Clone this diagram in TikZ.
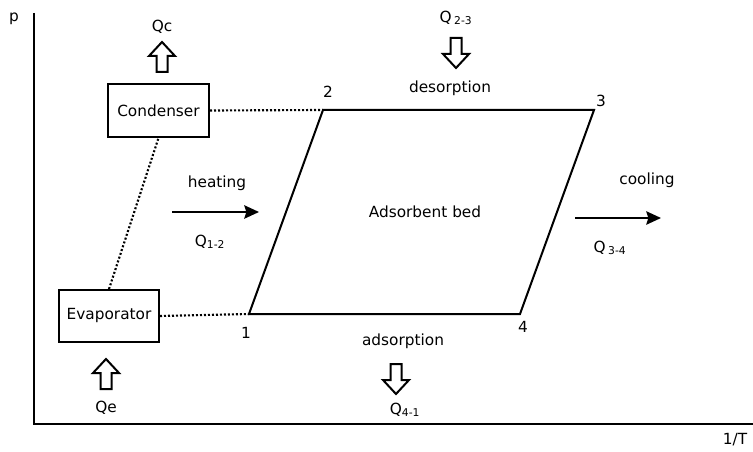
\documentclass[tikz,border=0pt]{standalone}
\usepackage{fontspec}
\setmainfont{DejaVu Sans}
\usetikzlibrary{arrows.meta}
\begin{document}
\begin{tikzpicture}[x=0.75pt,y=-0.75pt,
  thick line/.style={line width=1.5pt},
  boxnode/.style={draw,line width=1.5pt,inner sep=0pt,font=\fontsize{11.5}{13}\selectfont},
  lbl/.style={inner sep=0pt,font=\fontsize{11.5}{13}\selectfont},
  dotline/.style={line width=1.6pt,dash pattern=on 1.5pt off 1.5pt},
  flowarrow/.style={line width=1.6pt,-{Stealth[length=11pt,width=10pt,inset=1.5pt]}},
  pics/blockarrow/.style={code={
    \draw[line width=1.5pt,line join=miter,fill=white]
      (0,0) -- (13,14) -- (5.5,14) -- (5.5,30) -- (-5.5,30) -- (-5.5,14) -- (-13,14) -- cycle;}}
]
\path[use as bounding box] (0,0) rectangle (753,452);

% axes
\coordinate (otop) at (34,13);
\coordinate (origin) at (34,424);
\coordinate (xend) at (753,424);
\draw[thick line] (otop) -- (origin) -- (xend);
\node[lbl] (plab) at (14,19) {p};
\node[lbl] (tlab) at (735,440) {1/T};

% boxes
\node[boxnode,minimum width=75.75pt,minimum height=39.75pt] (cond) at (158.5,110.5) {Condenser};
\node[boxnode,minimum width=75pt,minimum height=39pt] (evap) at (109,316) {Evaporator};

% parallelogram
\coordinate (p1) at (249,314);
\coordinate (p2) at (323,110);
\coordinate (p3) at (594,110);
\coordinate (p4) at (520,314);
\draw[thick line,line join=miter] (p1) -- (p2) -- (p3) -- (p4) -- cycle;
\node[lbl] (n1) at (246,333) {1};
\node[lbl] (n2) at (328,92) {2};
\node[lbl] (n3) at (601,101) {3};
\node[lbl] (n4) at (523,327) {4};
\node[lbl] (bed) at (425,212) {Adsorbent bed};

% dotted links
\draw[dotline] (cond.east) -- (p2);
\draw[dotline] (evap.east) -- (p1);
\draw[dotline] (evap.north) -- (cond.south);

% block arrows
\pic at (162,42) {blockarrow};
\node[lbl] (qc) at (162,27) {Qc};
\pic at (106,359) {blockarrow};
\node[lbl] (qe) at (106,408) {Qe};
\pic[rotate=180] at (456,68) {blockarrow};
\node[lbl] (q23) at (456,18) {Q\,\textsubscript{2-3}};
\node[lbl] (des) at (450,88) {desorption};
\pic[rotate=180] at (396,394) {blockarrow};
\node[lbl] (q41) at (405,410) {Q\textsubscript{4-1}};
\node[lbl] (ads) at (403,341) {adsorption};

% heating / cooling
\coordinate (hs) at (172,212);
\coordinate (he) at (259,212);
\draw[flowarrow] (hs) -- (he);
\node[lbl] (heat) at (217,183) {heating};
\node[lbl] (q12) at (210,242) {Q\textsubscript{1-2}};
\coordinate (cs) at (575,218);
\coordinate (ce) at (661,218);
\draw[flowarrow] (cs) -- (ce);
\node[lbl] (cool) at (647,180) {cooling};
\node[lbl] (q34) at (610,248) {Q\,\textsubscript{3-4}};
\end{tikzpicture}
\end{document}
